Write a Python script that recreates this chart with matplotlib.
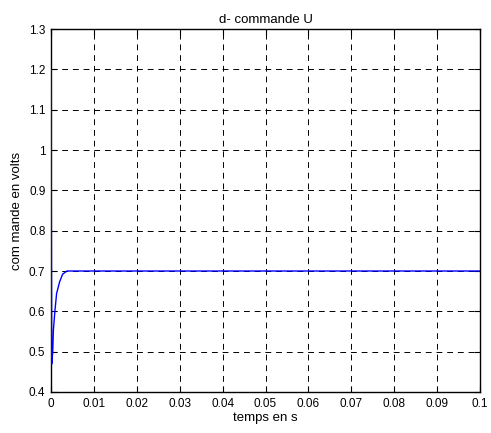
import numpy as np
import matplotlib.pyplot as plt

plt.rcParams['font.family'] = ['Liberation Sans', 'DejaVu Sans']

# commande U
t = [0, 0, 0.00016, 0.0004, 0.00055, 0.0009, 0.0013, 0.002, 0.0027, 0.0037, 0.1]
u = [1.2, 1.2, 0.469, 0.5, 0.553, 0.6, 0.644, 0.673, 0.692, 0.7, 0.7]
xticks = [0, 0.01, 0.02, 0.03, 0.04, 0.05, 0.06, 0.07, 0.08, 0.09, 0.1]
xlabels = ['0', '0.01', '0.02', '0.03', '0.04', '0.05', '0.06', '0.07', '0.08', '0.09', '0.1']
yticks = [0.4, 0.5, 0.6, 0.7, 0.8, 0.9, 1, 1.1, 1.2, 1.3]
ylabels = ['0.4', '0.5', '0.6', '0.7', '0.8', '0.9', '1', '1.1', '1.2', '1.3']

fig = plt.figure(figsize=(4.91, 4.33), dpi=100)
ax = fig.add_axes([0.1039, 0.0947, 0.8737, 0.8383])
ax.plot(t, u, color='#0000ff', lw=1, zorder=3)
ax.set_xlim(0, 0.1)
ax.set_ylim(0.4, 1.3)
ax.set_xticks(xticks)
ax.set_xticklabels(xlabels)
ax.set_yticks(yticks)
ax.set_yticklabels(ylabels)
ax.grid(True, color='black', linestyle=(0, (6, 5)), linewidth=0.7)
ax.tick_params(direction='in', top=True, right=True, labelsize=8.5, length=4, pad=4)
for s in ax.spines.values():
    s.set_linewidth(1)
ax.set_title('d- commande U', fontsize=9.5, pad=4)
ax.set_xlabel('temps en s', fontsize=9.5, labelpad=2)
ax.set_ylabel('com mande en volts', fontsize=9.5, labelpad=4)
fig.savefig('out.png')
